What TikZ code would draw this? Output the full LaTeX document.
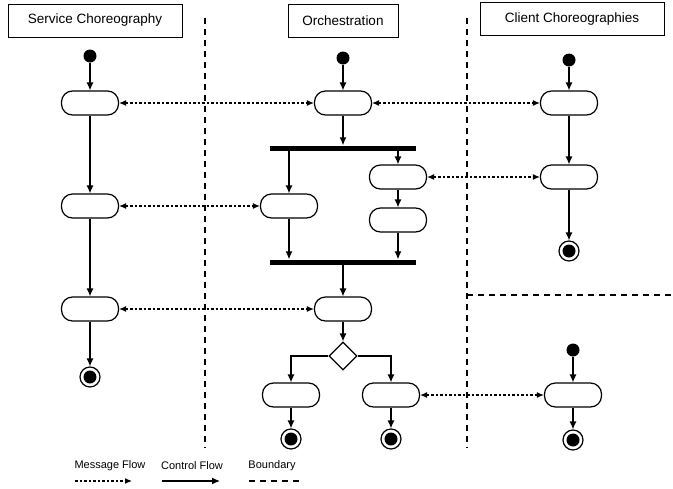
\documentclass[tikz,border=0pt]{standalone}
\usepackage{fontspec}
\setmainfont{Liberation Sans}
\usetikzlibrary{arrows.meta,shapes.geometric}
\begin{document}
\begin{tikzpicture}[x=1pt,y=-1pt,
  head/.style={draw, line width=0.9pt, minimum height=33pt, inner sep=0pt, font=\fontsize{13.5}{15}\selectfont},
  act/.style={draw, line width=1.2pt, rounded corners=11pt, minimum width=57pt, minimum height=24pt, inner sep=0pt},
  init/.style={circle, fill, minimum size=13pt, inner sep=0pt},
  final/.style={circle, draw, line width=1.2pt, minimum size=20pt, inner sep=0pt,
     path picture={\fill (path picture bounding box.center) circle (6.5pt);}},
  bar/.style={fill, minimum width=146pt, minimum height=5pt, inner sep=0pt},
  dia/.style={diamond, draw, line width=1.2pt, minimum size=28pt, inner sep=0pt},
  ctrl/.style={-{Latex[length=8pt,width=7pt]}, line width=1.2pt},
  msg/.style={{Latex[length=7pt,width=6pt]}-{Latex[length=7pt,width=6pt]}, line width=1.2pt, dash pattern=on 2.5pt off 2pt},
  bnd/.style={line width=1.2pt, dash pattern=on 6pt off 5pt},
  lgd/.style={font=\fontsize{11}{13}\selectfont, inner sep=0pt}
]
\useasboundingbox (0,0) rectangle (673,488);

% headers
\node[head, minimum width=174pt] (h1) at (95,20.5) {Service Choreography};
\node[head, minimum width=110pt] (h2) at (343,20.5) {Orchestration};
\node[head, minimum width=184pt] (h3) at (572,19) {Client Choreographies};

% boundaries
\coordinate (b1t) at (205,18); \coordinate (b1b) at (205,448);
\coordinate (b2t) at (467,18); \coordinate (b2b) at (467,448);
\coordinate (b3l) at (467,295); \coordinate (b3r) at (673,295);
\draw[bnd] (b1t) -- (b1b);
\draw[bnd] (b2t) -- (b2b);
\draw[bnd] (b3l) -- (b3r);

% column 1
\node[init] (si) at (90,56) {};
\node[act] (s1) at (90,103) {};
\node[act] (s2) at (90,206) {};
\node[act] (s3) at (90,309) {};
\node[final] (sf) at (90,377) {};
\draw[ctrl] (si) -- (s1);
\draw[ctrl] (s1) -- (s2);
\draw[ctrl] (s2) -- (s3);
\draw[ctrl] (s3) -- (sf);

% column 2
\node[init] (oi) at (343,58) {};
\node[act] (o1) at (343,103) {};
\node[bar] (fork) at (343,148) {};
\node[act] (o2) at (289,206) {};
\node[act] (o3) at (398,177) {};
\node[act] (o4) at (398,220) {};
\node[bar] (join) at (343,262) {};
\node[act] (o5) at (343,309) {};
\node[dia] (d) at (343,356) {};
\node[act] (o6) at (291,395) {};
\node[act] (o7) at (391,395) {};
\node[final] (of1) at (291,439) {};
\node[final] (of2) at (391,439) {};
\draw[ctrl] (oi) -- (o1);
\draw[ctrl] (o1) -- (fork);
\draw[ctrl] (fork.south -| o2) -- (o2);
\draw[ctrl] (fork.south -| o3) -- (o3);
\draw[ctrl] (o3) -- (o4);
\draw[ctrl] (o2) -- (o2 |- join.north);
\draw[ctrl] (o4) -- (o4 |- join.north);
\draw[ctrl] (join) -- (o5);
\draw[ctrl] (o5) -- (d);
\draw[ctrl] (d.west) -| (o6.north);
\draw[ctrl] (d.east) -| (o7.north);
\draw[ctrl] (o6) -- (of1);
\draw[ctrl] (o7) -- (of2);

% column 3
\node[init] (ci) at (569,60) {};
\node[act] (c1) at (569,103) {};
\node[act] (c2) at (569,177) {};
\node[final] (cf) at (569,251) {};
\node[init] (ci2) at (573,350) {};
\node[act] (c3) at (573,395) {};
\node[final] (cf2) at (573,440) {};
\draw[ctrl] (ci) -- (c1);
\draw[ctrl] (c1) -- (c2);
\draw[ctrl] (c2) -- (cf);
\draw[ctrl] (ci2) -- (c3);
\draw[ctrl] (c3) -- (cf2);

% message flows
\draw[msg] (s1) -- (o1);
\draw[msg] (o1) -- (c1);
\draw[msg] (s2) -- (o2);
\draw[msg] (o3) -- (c2);
\draw[msg] (s3) -- (o5);
\draw[msg] (o7) -- (c3);

% legend
\node[lgd] (l1) at (110,466) {Message Flow};
\node[lgd] (l2) at (192,466) {Control Flow};
\node[lgd] (l3) at (272,466) {Boundary};
\coordinate (m1) at (75,481); \coordinate (m2) at (132,481);
\coordinate (k1) at (162,481); \coordinate (k2) at (220,481);
\coordinate (n1) at (249,481); \coordinate (n2) at (301,481);
\draw[line width=1.2pt, dash pattern=on 2.5pt off 2pt, -{Latex[length=7pt,width=6pt]}] (m1) -- (m2);
\draw[ctrl] (k1) -- (k2);
\draw[bnd] (n1) -- (n2);
\end{tikzpicture}
\end{document}
